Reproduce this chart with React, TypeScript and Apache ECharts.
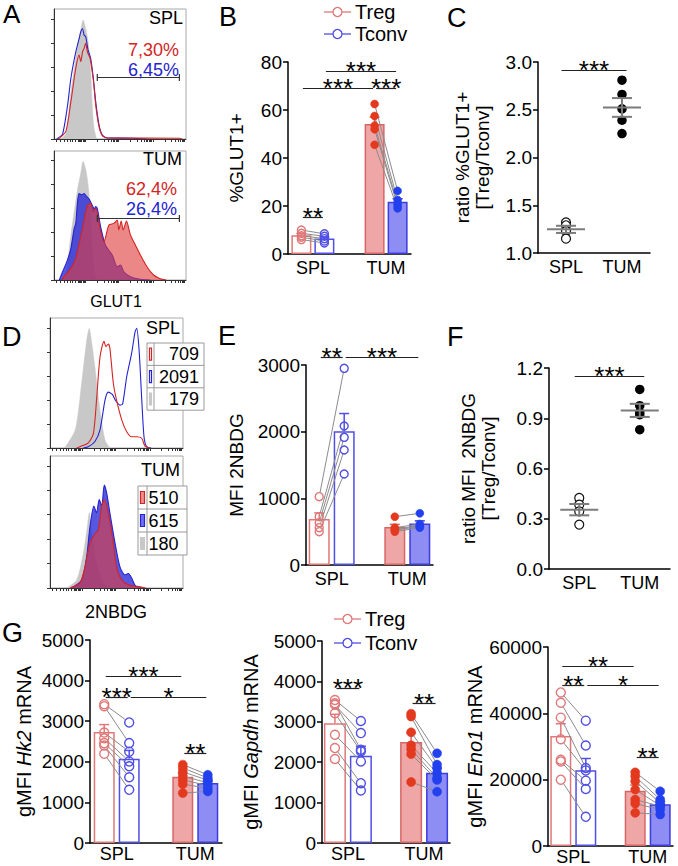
import React, { useEffect, useRef } from "react";
import * as echarts from "echarts";

const FONT = "Liberation Sans, Arial, Helvetica, sans-serif";
const CATS = ["SPL", "TUM"];

const TREG_LINE = "#e07878";
const TREG_FILL = "#eea6a6";
const TREG_EDGE = "#d96666";
const TREG_DOT = "#e2391f";
const TCONV_LINE = "#4f4fe6";
const TCONV_FILL = "#8d8df3";
const TCONV_EDGE = "#3c3ce0";
const TCONV_DOT = "#2340ee";
const PAIR_GRAY = "#8c8c8c";
const HIST_RED = "#d42424";
const HIST_BLUE = "#2424d0";
const HIST_GRAY = "#c8c8c8";

// ---------- Panel A: GLUT1 histograms (channel 0-100, % of mode) ----------
const A_SPL_GRAY = [[5,0],[9,4],[12.8,36],[15.5,55],[17.8,72],[20.3,84],[22,91.5],[24,85],[25.8,75],[27.8,52],[29,26],[30.3,8.5],[32.3,0]];
const A_SPL_BLUE = [[2,0],[2.8,0.5],[6.5,3.8],[10.3,26],[12.8,46.7],[16.5,67],[19,77],[20.3,82.5],[21.6,85],[22.8,80],[24,78.7],[25.8,68.5],[27.8,62],[29.8,46.7],[31.6,28.7],[34.1,10.8],[36.6,3],[40.4,0.8],[60,0.6],[70,0]];
const A_SPL_RED = [[3,0],[4,0.5],[9,5.9],[12.8,28.7],[16.5,54.4],[19,64.6],[20.3,59.5],[21.6,67],[22.8,69.7],[24,73.6],[25.3,67],[27.3,62],[29.8,45.4],[31.6,26],[34.1,9.5],[36.6,2.6],[40.4,0.8],[95,0.6],[97,0]];
const A_TUM_GRAY = [[5,0],[9,4],[12.8,35],[15.5,54],[17.8,70],[20.3,83],[22,92],[24,86],[25.8,74],[27.8,50],[29,25],[30.3,8],[32.3,0]];
const A_TUM_BLUE = [[4,0],[6.5,6.4],[10,15],[12.8,24.6],[15.3,40],[16.5,44],[17.8,60],[19,67],[21,66],[22.8,67],[24.5,65],[26.6,62.8],[29,58],[30.5,55],[31.5,57],[32.8,55.5],[35.3,41.4],[39,27],[44.1,19.4],[47.9,10.3],[50.4,11.6],[52.9,6.4],[57.9,2.6],[65.4,0.5],[73,0]];
const A_TUM_RED = [[6,0],[7.5,2.6],[12.8,9],[16.5,17],[21.6,40],[25.3,58],[27.8,59.5],[29.6,53],[31.6,55.5],[35.3,37.5],[37.8,29.7],[41.6,42.6],[45.4,43.9],[47.9,46.5],[49.1,38.8],[50.9,45.7],[52.4,38.8],[54.9,45.7],[57.9,35],[61.7,27],[65.4,19.4],[70.4,10.3],[75.4,3.9],[80.4,1],[85,0]];
const A_GATE_SPL = [32.8, 95, 48];
const A_GATE_TUM = [32.8, 95, 47.8];
const A_SPL_PCT = ["7,30%", "6,45%"];
const A_TUM_PCT = ["62,4%", "26,4%"];

// ---------- Panel D: 2NBDG histograms ----------
const D_SPL_GRAY = [[11,0],[19,14],[23.8,50],[27.6,83],[29.5,92],[31.5,80],[33.8,62],[37.6,29],[41.4,6],[45,0]];
const D_SPL_RED = [[20,0],[22.5,1],[28.8,4],[32.6,11],[35,37],[37.6,70],[40.6,82],[42,78],[43.8,80],[45,77],[47.6,50],[50,37],[54,21.5],[57.7,12.5],[61.4,8.7],[65,8.7],[69,7.5],[71.4,1.5],[75,0]];
const D_SPL_BLUE = [[25,0],[28.8,1],[33.8,5],[37.6,14],[41.4,37],[43.8,43],[47,41],[49,37],[52.6,33],[54.6,34],[57.7,55],[61.4,73],[64,89.5],[65.2,92],[67,75],[69,37],[70.7,8.5],[72.7,1],[76,0]];
const D_TUM_GRAY = [[12.5,0],[20,6],[25,26],[28,46],[29.5,57],[31.4,41],[35,19],[38.9,6],[43,0]];
const D_TUM_BLUE = [[16.3,0],[23.8,6],[27.6,24],[30,46],[33,62],[35,57],[37,67],[38.9,62],[40.8,78],[42.6,72],[45,57],[48.9,34],[52.6,16],[56.4,10],[58.9,11],[61.4,7.5],[64,2],[66.4,0.5],[70,0]];
const D_TUM_RED = [[15,0],[22.5,4],[26.3,16],[30,34],[33.8,41],[36.3,44],[38.9,62],[40.8,67],[43.8,57],[47.6,34],[50,16],[54,6],[60,2],[67.7,1],[72,0]];
const D_SPL_MFI = ["709", "2091", "179"];
const D_TUM_MFI = ["510", "615", "180"];

const HIST_XTICKS = [2,5,8,10,12,14,16,18,19,20,21,22,23,24,33,38,41,43,45,46,47,48,49,58,63,66,68,70,71,72,73,74,75,84,89,92,94,96,97,98,99];
const HIST_YTICKS = [0, 18.5, 37, 55.5, 74, 92.5];

// ---------- Panel B: %GLUT1+ ----------
const B_TREG_SPL = [10.0, 8.6, 7.6, 7.0, 6.0];
const B_TCONV_SPL = [8.4, 7.4, 6.4, 5.4, 4.6];
const B_TREG_TUM = [62.5, 57.5, 53.5, 52.0, 45.5];
const B_TCONV_TUM = [26.3, 22.5, 21.0, 20.0, 19.0];

// ---------- Panel C: ratio %GLUT1+ ----------
const C_SPL = [1.32, 1.29, 1.23, 1.15];
const C_TUM = [2.81, 2.66, 2.51, 2.39, 2.25];

// ---------- Panel E: MFI 2NBDG ----------
const E_TREG_SPL = [1025, 725, 635, 560, 500];
const E_TCONV_SPL = [2950, 2085, 1915, 1725, 1365];
const E_TREG_TUM = [725, 560, 540, 525, 500];
const E_TCONV_TUM = [775, 615, 590, 575, 560];

// ---------- Panel F: ratio MFI 2NBDG ----------
const F_SPL = [0.424, 0.384, 0.344, 0.265];
const F_TUM = [1.072, 0.975, 0.935, 0.921, 0.832];

// ---------- Panel G ----------
const HK2_TREG_SPL = [3420, 3370, 2720, 2580, 2460, 2400, 2200];
const HK2_TCONV_SPL = [2970, 2460, 2250, 2010, 1890, 1620, 1310];
const HK2_TREG_TUM = [1930, 1850, 1750, 1650, 1550, 1450, 1230];
const HK2_TCONV_TUM = [1680, 1600, 1550, 1480, 1420, 1350, 1270];

const GAPDH_TREG_SPL = [3540, 3460, 3420, 3210, 2680, 2350, 2080];
const GAPDH_TCONV_SPL = [3020, 2310, 2720, 2270, 2020, 1480, 1300];
const GAPDH_TREG_TUM = [3200, 3130, 2740, 2420, 2320, 2200, 1510];
const GAPDH_TCONV_TUM = [2220, 1940, 1850, 1730, 1610, 1560, 1270];

const ENO1_TREG_SPL = [46300, 43200, 38700, 32200, 26000, 25500, 20000];
const ENO1_TCONV_SPL = [37800, 30300, 23500, 22800, 19700, 17200, 8800];
const ENO1_TREG_TUM = [22200, 21000, 19500, 17000, 14000, 12800, 10000];
const ENO1_TCONV_TUM = [16500, 14000, 13000, 12200, 12000, 11000, 9500];

type Sig = { a: number[]; b: number[]; y: number; t: string; ext?: number };
const B_SIG: Sig[] = [
  { a: [0, 1], b: [1, 1], y: 76.3, t: "***" },
  { a: [0, -1], b: [1, -1], y: 69, t: "***" },
  { a: [1, -1], b: [1, 1], y: 69, t: "***" },
  { a: [0, -1], b: [0, 1], y: 15.5, t: "**" },
];
const C_SIG: Sig[] = [{ a: [0, 0], b: [1, 0], y: 2.92, t: "***", ext: 6 }];
const E_SIG: Sig[] = [
  { a: [0, -1], b: [0, 1], y: 3125, t: "**" },
  { a: [0, 1], b: [1, 1], y: 3125, t: "***" },
];
const F_SIG: Sig[] = [{ a: [0, 0], b: [1, 0], y: 1.154, t: "***", ext: 6 }];
const HK2_SIG: Sig[] = [
  { a: [0, -1], b: [1, -1], y: 4123, t: "***" },
  { a: [0, -1], b: [0, 1], y: 3607, t: "***" },
  { a: [0, 1], b: [1, 1], y: 3607, t: "*" },
  { a: [1, -1], b: [1, 1], y: 2213, t: "**" },
];
const GAPDH_SIG: Sig[] = [
  { a: [0, -1], b: [0, 1], y: 3830, t: "***" },
  { a: [1, -1], b: [1, 1], y: 3476, t: "**" },
];
const ENO1_SIG: Sig[] = [
  { a: [0, -1], b: [1, -1], y: 54200, t: "**" },
  { a: [0, -1], b: [0, 1], y: 48500, t: "**" },
  { a: [0, 1], b: [1, 1], y: 48500, t: "*" },
  { a: [1, -1], b: [1, 1], y: 26700, t: "**" },
];

// ---------- layout ----------
const GRIDS = [
  { left: 54, top: 9, width: 132, height: 130 },   // 0 A SPL
  { left: 54, top: 151, width: 132, height: 129 }, // 1 A TUM
  { left: 288, top: 62, width: 123, height: 192 }, // 2 B
  { left: 538, top: 62, width: 112, height: 191 }, // 3 C
  { left: 50, top: 318, width: 133, height: 130 }, // 4 D SPL
  { left: 50, top: 456, width: 133, height: 132 }, // 5 D TUM
  { left: 306, top: 365, width: 127, height: 200 },// 6 E
  { left: 549, top: 368, width: 121, height: 201 },// 7 F
  { left: 90, top: 640, width: 132, height: 203 }, // 8 G Hk2
  { left: 322, top: 641, width: 128, height: 202 },// 9 G Gapdh
  { left: 548, top: 647, width: 125, height: 200 },// 10 G Eno1
];

const mean = (a: number[]) => a.reduce((s, v) => s + v, 0) / a.length;
const sem = (a: number[]) => {
  const m = mean(a);
  const v = a.reduce((s, x) => s + (x - m) * (x - m), 0) / (a.length - 1);
  return Math.sqrt(v / a.length);
};

function txtStyle(text: string, size: number, color: string, align: string, valign: string) {
  return {
    text, fill: color, font: `${size}px ${FONT}`,
    fontSize: size, fontFamily: FONT,
    align, verticalAlign: valign, textAlign: align, textVerticalAlign: valign,
  };
}
function T(x: number, y: number, text: string, size: number, color = "#000", align = "left", valign = "middle") {
  return { type: "text", x, y, z: 20, silent: true, style: txtStyle(text, size, color, align, valign) };
}

function histAxes(gi: number) {
  const line = { show: true, onZero: false, lineStyle: { color: "#333", width: 1 } };
  return {
    x: { gridIndex: gi, type: "value", min: 0, max: 100, axisLine: line,
      axisTick: { show: true, customValues: HIST_XTICKS, length: 3, lineStyle: { color: "#333", width: 1 } },
      axisLabel: { show: false }, splitLine: { show: false } },
    y: { gridIndex: gi, type: "value", min: 0, max: 100, axisLine: line,
      axisTick: { show: true, customValues: HIST_YTICKS, length: 3, lineStyle: { color: "#333", width: 1 } },
      axisLabel: { show: false }, splitLine: { show: false } },
  };
}

function histSeries(gi: number, data: number[][], color: string, fill: string | null, z: number, width = 1.1) {
  const s: any = {
    type: "line", xAxisIndex: gi, yAxisIndex: gi, data, symbol: "none", showSymbol: false,
    smooth: 0.25, z, silent: true, lineStyle: { color, width },
  };
  if (fill) s.areaStyle = { color: fill, opacity: 1 };
  return s;
}

function gateSeries(gi: number, g: number[]) {
  return {
    type: "custom", xAxisIndex: gi, yAxisIndex: gi, z: 8, silent: true,
    data: [g],
    renderItem: (_p: any, api: any) => {
      const p1 = api.coord([api.value(0), api.value(2)]);
      const p2 = api.coord([api.value(1), api.value(2)]);
      const y = Math.round(p1[1]) + 0.5;
      const st = { stroke: "#333", lineWidth: 1.2 };
      return { type: "group", children: [
        { type: "line", shape: { x1: p1[0], y1: y, x2: p2[0], y2: y }, style: st },
        { type: "line", shape: { x1: p1[0], y1: y - 3.5, x2: p1[0], y2: y + 3.5 }, style: st },
        { type: "line", shape: { x1: p2[0], y1: y - 3.5, x2: p2[0], y2: y + 3.5 }, style: st },
      ] };
    },
  };
}

function sigSeries(gi: number, sigs: Sig[], off: number) {
  return {
    type: "custom", xAxisIndex: gi, yAxisIndex: gi, z: 9, silent: true,
    data: sigs.map((s) => [s.a[0], s.y]),
    renderItem: (params: any, api: any) => {
      const s = sigs[params.dataIndex];
      const ext = s.ext ?? 0;
      const p1 = api.coord([s.a[0], s.y]);
      const p2 = api.coord([s.b[0], s.y]);
      const x1 = p1[0] + s.a[1] * off - ext + 1.5;
      const x2 = p2[0] + s.b[1] * off + ext - 1.5;
      const y = Math.round(p1[1]) + 0.5;
      return { type: "group", children: [
        { type: "line", shape: { x1, y1: y, x2, y2: y }, style: { stroke: "#222", lineWidth: 1.2 } },
        { type: "text", x: (x1 + x2) / 2, y: y - 0.5, style: txtStyle(s.t, 26, "#000", "center", "middle") },
      ] };
    },
  };
}

type BarCfg = {
  gi: number; tregSpl: number[]; tconvSpl: number[]; tregTum: number[]; tconvTum: number[];
  W: number; gap: number; r: number; sig: Sig[];
};

function barPanel(c: BarCfg) {
  const off = (c.W * (1 + c.gap)) / 2;
  const gapStr = `${Math.round(c.gap * 100)}%`;
  const bar = (name: string, spl: number[], tum: number[], isTreg: boolean) => ({
    type: "bar", name, xAxisIndex: c.gi, yAxisIndex: c.gi, barWidth: c.W, barGap: gapStr, z: 2, silent: true,
    data: [
      { value: [0, mean(spl)], itemStyle: { color: "#fff", borderColor: isTreg ? TREG_LINE : TCONV_LINE, borderWidth: 1.5 } },
      { value: [1, mean(tum)], itemStyle: { color: isTreg ? TREG_FILL : TCONV_FILL, borderColor: isTreg ? TREG_EDGE : TCONV_EDGE, borderWidth: 1.5 } },
    ],
  });
  const errData = [
    [0, mean(c.tregSpl), sem(c.tregSpl), -1],
    [0, mean(c.tconvSpl), sem(c.tconvSpl), 1],
    [1, mean(c.tregTum), sem(c.tregTum), -1],
    [1, mean(c.tconvTum), sem(c.tconvTum), 1],
  ];
  const err = {
    type: "custom", xAxisIndex: c.gi, yAxisIndex: c.gi, z: 3, silent: true, data: errData,
    renderItem: (_p: any, api: any) => {
      const cat = api.value(0), m = api.value(1), s = api.value(2), side = api.value(3);
      const p = api.coord([cat, m]);
      const q = api.coord([cat, m + s]);
      const x = p[0] + side * off;
      const color = side < 0 ? (cat === 0 ? TREG_LINE : TREG_EDGE) : (cat === 0 ? TCONV_LINE : TCONV_EDGE);
      const st = { stroke: color, lineWidth: 1.5 };
      return { type: "group", children: [
        { type: "line", shape: { x1: x, y1: p[1], x2: x, y2: q[1] }, style: st },
        { type: "line", shape: { x1: x - 5, y1: q[1], x2: x + 5, y2: q[1] }, style: st },
      ] };
    },
  };
  const pairs: number[][] = [];
  c.tregSpl.forEach((v, i) => pairs.push([0, v, c.tconvSpl[i]]));
  c.tregTum.forEach((v, i) => pairs.push([1, v, c.tconvTum[i]]));
  const pts = (api: any) => {
    const cat = api.value(0);
    const p1 = api.coord([cat, api.value(1)]);
    const p2 = api.coord([cat, api.value(2)]);
    return { cat, x1: p1[0] - off, y1: p1[1], x2: p2[0] + off, y2: p2[1] };
  };
  const lines = {
    type: "custom", xAxisIndex: c.gi, yAxisIndex: c.gi, z: 4, silent: true, data: pairs,
    renderItem: (_p: any, api: any) => {
      const { x1, y1, x2, y2 } = pts(api);
      const dx = x2 - x1, dy = y2 - y1;
      const len = Math.sqrt(dx * dx + dy * dy) || 1;
      const ux = dx / len, uy = dy / len;
      return { type: "line", shape: { x1: x1 + ux * c.r, y1: y1 + uy * c.r, x2: x2 - ux * c.r, y2: y2 - uy * c.r },
        style: { stroke: PAIR_GRAY, lineWidth: 1 } };
    },
  };
  const dots = {
    type: "custom", xAxisIndex: c.gi, yAxisIndex: c.gi, z: 5, silent: true, data: pairs,
    renderItem: (_p: any, api: any) => {
      const { cat, x1, y1, x2, y2 } = pts(api);
      const open = cat === 0;
      return { type: "group", children: [
        { type: "circle", shape: { cx: x1, cy: y1, r: c.r },
          style: open ? { fill: "none", stroke: TREG_LINE, lineWidth: 1.4 } : { fill: TREG_DOT, stroke: TREG_DOT, lineWidth: 0.5 } },
        { type: "circle", shape: { cx: x2, cy: y2, r: c.r },
          style: open ? { fill: "none", stroke: TCONV_LINE, lineWidth: 1.4 } : { fill: TCONV_DOT, stroke: TCONV_DOT, lineWidth: 0.5 } },
      ] };
    },
  };
  return [
    bar("Treg", c.tregSpl, c.tregTum, true),
    bar("Tconv", c.tconvSpl, c.tconvTum, false),
    err, lines, dots, sigSeries(c.gi, c.sig, off),
  ];
}

function ratioPanel(gi: number, spl: number[], tum: number[], sig: Sig[]) {
  return [
    { type: "scatter", xAxisIndex: gi, yAxisIndex: gi, symbolSize: 9, z: 3, silent: true,
      data: spl.map((v) => [0, v]), itemStyle: { color: "#fff", borderColor: "#111", borderWidth: 1.2, opacity: 1 } },
    { type: "scatter", xAxisIndex: gi, yAxisIndex: gi, symbolSize: 9.5, z: 3, silent: true,
      data: tum.map((v) => [1, v]), itemStyle: { color: "#000", opacity: 1 } },
    { type: "custom", xAxisIndex: gi, yAxisIndex: gi, z: 4, silent: true,
      data: [[0, mean(spl), sem(spl)], [1, mean(tum), sem(tum)]],
      renderItem: (_p: any, api: any) => {
        const cat = api.value(0), m = api.value(1), s = api.value(2);
        const pm = api.coord([cat, m]);
        const pu = api.coord([cat, m + s]);
        const pl = api.coord([cat, m - s]);
        const x = pm[0];
        const st = { stroke: "#7c7c7c", lineWidth: 2 };
        return { type: "group", children: [
          { type: "line", shape: { x1: x - 19, y1: pm[1], x2: x + 19, y2: pm[1] }, style: st },
          { type: "line", shape: { x1: x - 10, y1: pu[1], x2: x + 10, y2: pu[1] }, style: st },
          { type: "line", shape: { x1: x - 10, y1: pl[1], x2: x + 10, y2: pl[1] }, style: st },
          { type: "line", shape: { x1: x, y1: pu[1], x2: x, y2: pl[1] }, style: st },
        ] };
      } },
    sigSeries(gi, sig, 0),
  ];
}

const blackLine = { show: true, onZero: false, lineStyle: { color: "#000", width: 1.5 } };

function catValX(gi: number, margin = 5) {
  return { gridIndex: gi, type: "value", min: -0.34, max: 1.34, axisLine: blackLine,
    axisTick: { show: false }, splitLine: { show: false },
    axisLabel: { customValues: [0, 1], formatter: (v: number) => CATS[Math.round(v)] ?? "",
      fontSize: 18, color: "#000", fontFamily: FONT, margin } };
}
function catX(gi: number) {
  return { gridIndex: gi, type: "category", data: CATS, boundaryGap: true, axisLine: blackLine,
    axisTick: { show: false }, splitLine: { show: false },
    axisLabel: { fontSize: 18, color: "#000", fontFamily: FONT, margin: 5 } };
}
const plain = (v: number) => String(Math.round(v));
function valY(gi: number, min: number, max: number, interval: number, name: string, gap: number,
  fmt: (v: number) => string = plain, nameSize = 19, rich?: any) {
  return {
    gridIndex: gi, type: "value", min, max, interval, name, nameLocation: "middle", nameGap: gap,
    nameTextStyle: { fontSize: nameSize, color: "#000", fontFamily: FONT, lineHeight: 20, rich },
    axisLine: blackLine,
    axisTick: { show: true, length: 5, lineStyle: { color: "#000", width: 1.5 } },
    axisLabel: { fontSize: 19, color: "#000", fontFamily: FONT, margin: 6, formatter: fmt },
    splitLine: { show: false },
  };
}

function geneName(g: string) {
  return `{n|gMFI }{i|${g}}{n| mRNA}`;
}
const geneRich = {
  n: { fontSize: 20, fontFamily: FONT, color: "#000" },
  i: { fontSize: 20, fontFamily: FONT, color: "#000", fontStyle: "italic" },
};

function legend(x: number, y1: number, y2: number) {
  const item = (y: number, color: string, label: string) => [
    { type: "line", z: 20, silent: true, shape: { x1: x, y1: y, x2: x + 27, y2: y }, style: { stroke: color, lineWidth: 1.3 } },
    { type: "circle", z: 21, silent: true, shape: { cx: x + 13.5, cy: y, r: 4.5 }, style: { fill: "#fff", stroke: color, lineWidth: 1.3 } },
    T(x + 31, y, label, 20),
  ];
  return [...item(y1, TREG_LINE, "Treg"), ...item(y2, TCONV_LINE, "Tconv")];
}

function table(x: number, y: number, w: number, rowH: number, divX: number, values: string[], filled: boolean, rightAlign: boolean) {
  const els: any[] = [];
  els.push({ type: "rect", z: 15, silent: true, shape: { x, y, width: w, height: rowH * 3 }, style: { fill: "#fff", stroke: "#9a9a9a", lineWidth: 1 } });
  els.push({ type: "line", z: 16, silent: true, shape: { x1: divX, y1: y, x2: divX, y2: y + rowH * 3 }, style: { stroke: "#9a9a9a", lineWidth: 1 } });
  for (let i = 1; i < 3; i++) {
    els.push({ type: "line", z: 16, silent: true, shape: { x1: x, y1: y + rowH * i, x2: x + w, y2: y + rowH * i }, style: { stroke: "#9a9a9a", lineWidth: 1 } });
  }
  const sym = [
    { stroke: HIST_RED, fill: filled ? "#ec8f8f" : "#fff" },
    { stroke: HIST_BLUE, fill: filled ? "#6f6ff0" : "#fff" },
    { stroke: HIST_GRAY, fill: HIST_GRAY },
  ];
  values.forEach((v, i) => {
    const cy = y + rowH * i + rowH / 2;
    const sw = divX - x - 5;
    els.push({ type: "rect", z: 17, silent: true, shape: { x: x + 2.5, y: cy - 6, width: sw, height: 12 }, style: { fill: sym[i].fill, stroke: sym[i].stroke, lineWidth: 1.2 } });
    els.push(rightAlign ? T(x + w - 5, cy, v, 18, "#000", "right") : T(divX + 1.5, cy, v, 18, "#000", "left"));
  });
  return els;
}

function buildOption() {
  const hA1 = histAxes(0), hA2 = histAxes(1), hD1 = histAxes(4), hD2 = histAxes(5);
  const xAxis = [
    hA1.x, hA2.x, catValX(2), catX(3), hD1.x, hD2.x, catValX(6), catX(7),
    catValX(8, 2), catValX(9, 2), catValX(10, 2),
  ];
  const fmt1 = (v: number) => v.toFixed(1);
  const yAxis = [
    hA1.y, hA2.y,
    valY(2, 0, 80, 20, "%GLUT1+", 42),
    valY(3, 1, 3, 0.5, "ratio %GLUT1+\n[Treg/Tconv]", 46, fmt1),
    hD1.y, hD2.y,
    valY(6, 0, 3000, 1000, "MFI 2NBDG", 60),
    valY(7, 0, 1.2, 0.3, "ratio MFI  2NBDG\n[Treg/Tconv]", 51, fmt1),
    valY(8, 0, 5000, 1000, geneName("Hk2"), 56, plain, 20, geneRich),
    valY(9, 0, 5000, 1000, geneName("Gapdh"), 61, plain, 20, geneRich),
    valY(10, 0, 60000, 20000, geneName("Eno1"), 57, plain, 20, geneRich),
  ];

  const redFill = "rgba(222,62,62,0.62)";
  const blueFill = "rgba(40,40,215,0.78)";
  const series: any[] = [
    histSeries(0, A_SPL_GRAY, HIST_GRAY, HIST_GRAY, 1, 0.5),
    histSeries(0, A_SPL_BLUE, HIST_BLUE, null, 2),
    histSeries(0, A_SPL_RED, HIST_RED, null, 3),
    gateSeries(0, A_GATE_SPL),
    histSeries(1, A_TUM_GRAY, HIST_GRAY, HIST_GRAY, 1, 0.5),
    histSeries(1, A_TUM_BLUE, HIST_BLUE, blueFill, 2),
    histSeries(1, A_TUM_RED, HIST_RED, redFill, 3),
    gateSeries(1, A_GATE_TUM),
    histSeries(4, D_SPL_GRAY, HIST_GRAY, HIST_GRAY, 1, 0.5),
    histSeries(4, D_SPL_BLUE, HIST_BLUE, null, 2),
    histSeries(4, D_SPL_RED, HIST_RED, null, 3),
    histSeries(5, D_TUM_GRAY, HIST_GRAY, HIST_GRAY, 1, 0.5),
    histSeries(5, D_TUM_BLUE, HIST_BLUE, blueFill, 2),
    histSeries(5, D_TUM_RED, HIST_RED, redFill, 3),
    ...barPanel({ gi: 2, tregSpl: B_TREG_SPL, tconvSpl: B_TCONV_SPL, tregTum: B_TREG_TUM, tconvTum: B_TCONV_TUM, W: 20, gap: 0.15, r: 4, sig: B_SIG }),
    ...ratioPanel(3, C_SPL, C_TUM, C_SIG),
    ...barPanel({ gi: 6, tregSpl: E_TREG_SPL, tconvSpl: E_TCONV_SPL, tregTum: E_TREG_TUM, tconvTum: E_TCONV_TUM, W: 21, gap: 0.19, r: 4, sig: E_SIG }),
    ...ratioPanel(7, F_SPL, F_TUM, F_SIG),
    ...barPanel({ gi: 8, tregSpl: HK2_TREG_SPL, tconvSpl: HK2_TCONV_SPL, tregTum: HK2_TREG_TUM, tconvTum: HK2_TCONV_TUM, W: 21, gap: 0.19, r: 4.5, sig: HK2_SIG }),
    ...barPanel({ gi: 9, tregSpl: GAPDH_TREG_SPL, tconvSpl: GAPDH_TCONV_SPL, tregTum: GAPDH_TREG_TUM, tconvTum: GAPDH_TCONV_TUM, W: 22, gap: 0.18, r: 4.5, sig: GAPDH_SIG }),
    ...barPanel({ gi: 10, tregSpl: ENO1_TREG_SPL, tconvSpl: ENO1_TCONV_SPL, tregTum: ENO1_TREG_TUM, tconvTum: ENO1_TCONV_TUM, W: 21, gap: 0.19, r: 4.5, sig: ENO1_SIG }),
  ];

  const graphics: any[] = [
    T(3, 14, "A", 26), T(219, 17, "B", 27), T(447, 17.5, "C", 27),
    T(2, 337, "D", 27), T(218, 336, "E", 27), T(447, 337, "F", 27), T(2, 633, "G", 27),
    T(183, 18, "SPL", 18, "#000", "right"),
    T(179, 49.5, A_SPL_PCT[0], 18, HIST_RED, "right"),
    T(179, 69.5, A_SPL_PCT[1], 18, HIST_BLUE, "right"),
    T(182, 158.5, "TUM", 18, "#000", "right"),
    T(177, 189, A_TUM_PCT[0], 18, HIST_RED, "right"),
    T(177, 208.5, A_TUM_PCT[1], 18, HIST_BLUE, "right"),
    T(116, 301, "GLUT1", 16, "#000", "center"),
    T(180, 328, "SPL", 18, "#000", "right"),
    T(180, 470, "TUM", 18, "#000", "right"),
    T(116, 612, "2NBDG", 18, "#000", "center"),
    ...table(147, 343, 57, 22.4, 154, D_SPL_MFI, false, true),
    ...table(138, 486, 49, 23, 147, D_TUM_MFI, true, false),
    ...legend(324, 12, 34),
    ...legend(334, 619, 643),
  ];

  return {
    animation: false,
    backgroundColor: "#fff",
    textStyle: { fontFamily: FONT },
    grid: GRIDS.map((g, i) => ({
      ...g, containLabel: false,
      show: [0, 1, 4, 5].includes(i), borderColor: "#a8a8a8", borderWidth: 1, backgroundColor: "transparent",
    })),
    xAxis, yAxis, series,
    graphic: { elements: graphics },
  };
}

export default function App() {
  const ref = useRef<HTMLDivElement>(null);
  useEffect(() => {
    if (!ref.current) return;
    const chart = echarts.init(ref.current, undefined, { renderer: "svg", width: 678, height: 866 });
    chart.setOption(buildOption() as any);
    return () => chart.dispose();
  }, []);
  return (
    <div
      ref={ref}
      style={{ position: "fixed", left: 0, top: 0, width: 678, height: 866, background: "#fff" }}
    />
  );
}
